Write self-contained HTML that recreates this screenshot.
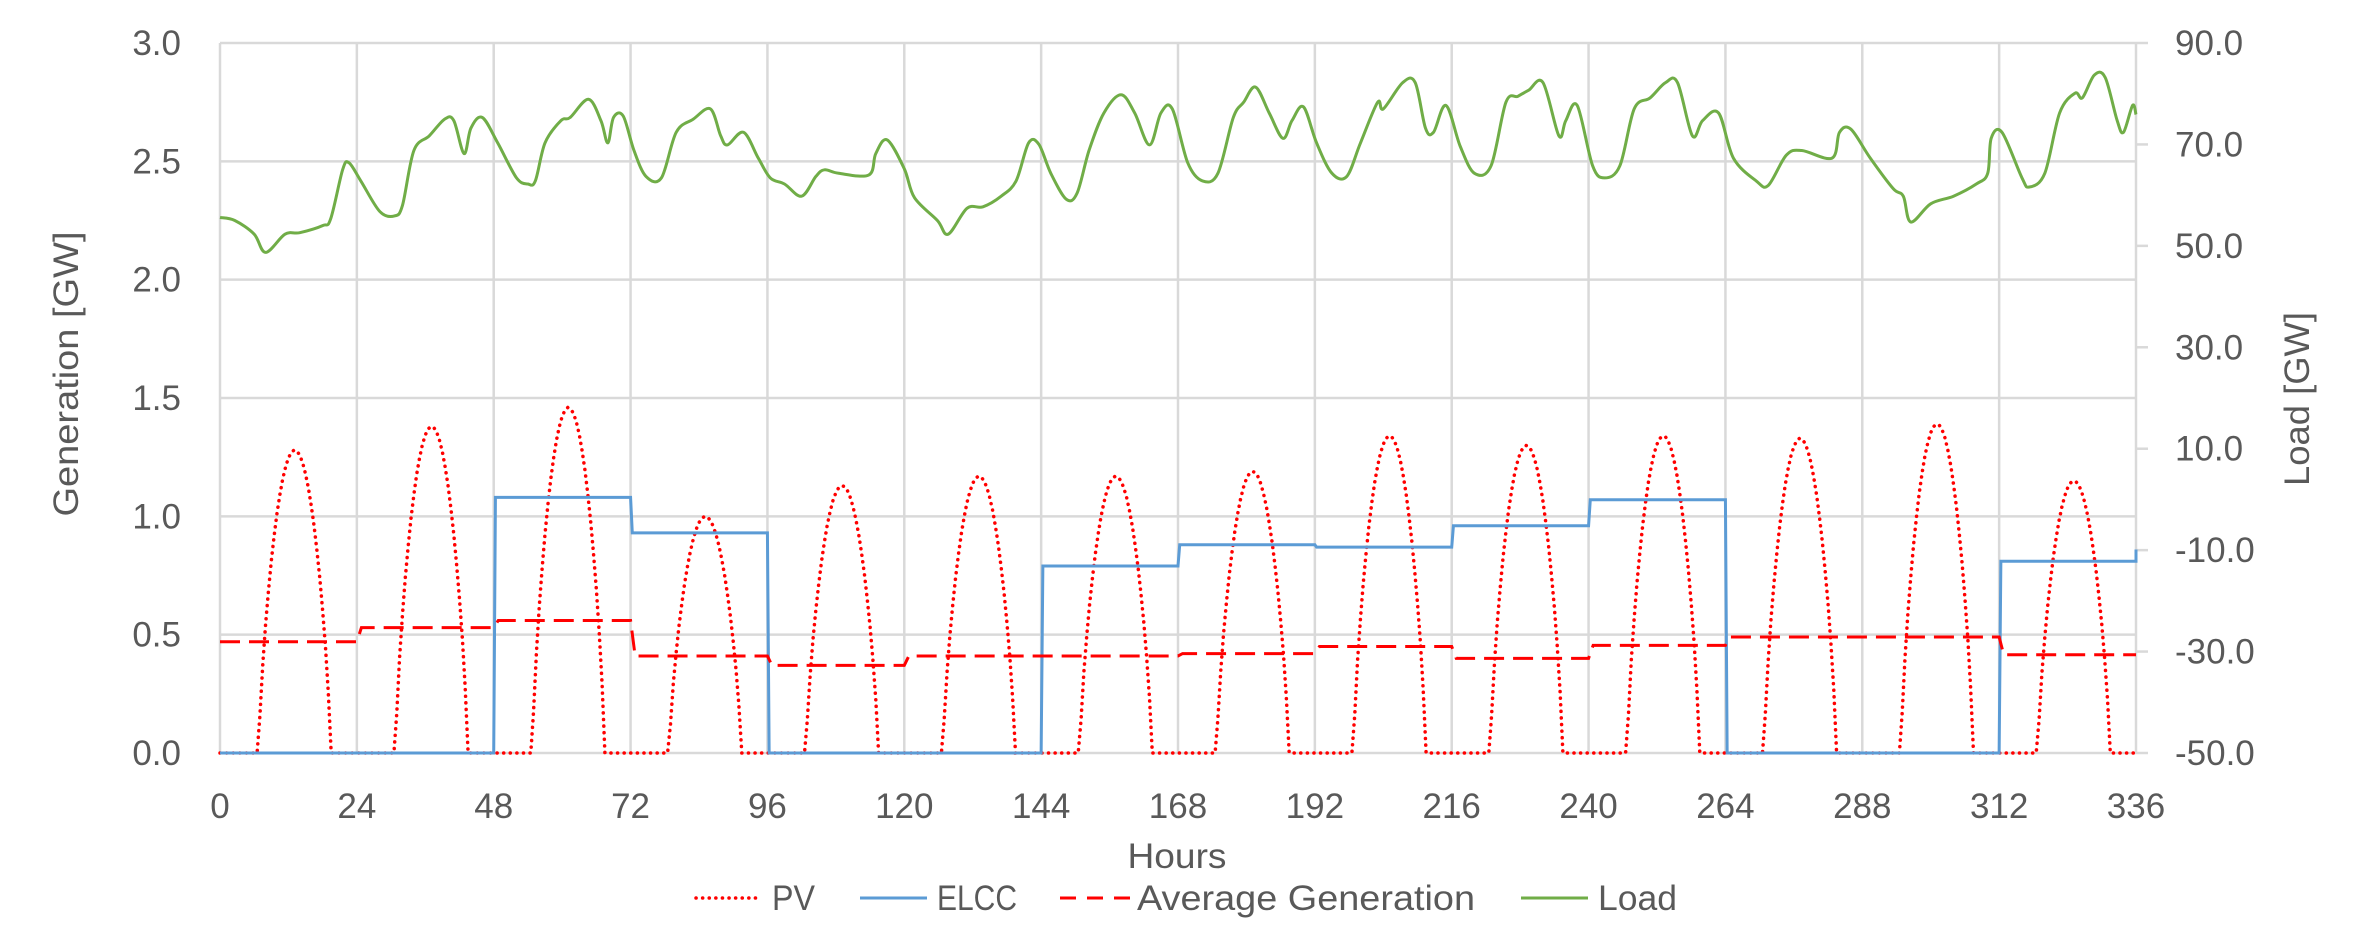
<!DOCTYPE html>
<html><head><meta charset="utf-8"><style>
html,body{margin:0;padding:0;background:#fff;}
svg{display:block;font-family:"Liberation Sans",sans-serif;}
</style></head><body>
<svg id="c" width="2376" height="941" viewBox="0 0 2376 941" xmlns="http://www.w3.org/2000/svg">
<g id="grid" stroke="#d9d9d9" stroke-width="2.5" fill="none"></g>
<g id="lab" fill="#595959" font-size="35"></g>
<text x="0" y="0" fill="#595959" font-size="35" text-anchor="middle" textLength="285" lengthAdjust="spacingAndGlyphs" transform="translate(78,374) rotate(-90)">Generation [GW]</text>
<text x="0" y="0" fill="#595959" font-size="35" text-anchor="middle" textLength="174" lengthAdjust="spacingAndGlyphs" transform="translate(2309,399) rotate(-90)">Load [GW]</text>
<text x="1177" y="868" fill="#595959" font-size="35" text-anchor="middle" textLength="99" lengthAdjust="spacingAndGlyphs">Hours</text>
<g id="series" fill="none"></g>
<g font-size="35" fill="#595959">
<line x1="696" y1="898" x2="760" y2="898" stroke="#ff0000" stroke-width="3.5" stroke-linecap="round" stroke-dasharray="0.1 6.5"/>
<text x="772" y="910" textLength="43" lengthAdjust="spacingAndGlyphs">PV</text>
<line x1="860" y1="898" x2="927" y2="898" stroke="#5b9bd5" stroke-width="3"/>
<text x="937" y="910" textLength="80" lengthAdjust="spacingAndGlyphs">ELCC</text>
<line x1="1060" y1="898" x2="1130" y2="898" stroke="#ff0000" stroke-width="3" stroke-dasharray="16 11"/>
<text x="1137" y="910" textLength="338" lengthAdjust="spacingAndGlyphs">Average Generation</text>
<line x1="1521" y1="898" x2="1588" y2="898" stroke="#70ad47" stroke-width="3"/>
<text x="1598" y="910" textLength="79" lengthAdjust="spacingAndGlyphs">Load</text>
</g>
</svg>
<script>
var NS="http://www.w3.org/2000/svg";
var L=220,R=2136,T=43,B=753;
function X(h){return L+h*(R-L)/336;}
function YG(g){return B-g*(B-T)/3;}
function YL(v){return B-(v+50)*(B-T)/140;}
function el(p,tag,a,txt){var e=document.createElementNS(NS,tag);for(var k in a)e.setAttribute(k,a[k]);if(txt!==undefined)e.textContent=txt;p.appendChild(e);return e;}
var grid=document.getElementById('grid'),lab=document.getElementById('lab'),ser=document.getElementById('series');
for(var i=0;i<=6;i++){var y=YG(i*0.5);el(grid,'line',{x1:L,x2:R,y1:y,y2:y});
 el(lab,'text',{x:181,y:y+12,'text-anchor':'end'},(i*0.5).toFixed(1));}
for(var i=0;i<=7;i++){var v=-50+i*20,y=YL(v);el(grid,'line',{x1:R,x2:R+12,y1:y,y2:y});
 el(lab,'text',{x:2175,y:y+12},v.toFixed(1));}
for(var h=0;h<=336;h+=24){var x=X(h);el(grid,'line',{x1:x,x2:x,y1:T,y2:B});
 el(lab,'text',{x:x,y:818,'text-anchor':'middle'},h);}
// PV
var peaks=[1.28,1.38,1.46,1.0,1.13,1.17,1.17,1.19,1.34,1.30,1.34,1.33,1.39,1.15];
var d="";
for(var t=0;t<=336;t+=0.5){var day=Math.min(13,Math.floor(t/24)),hh=t-day*24;var s=Math.sin(Math.PI*(hh-6.8)/12.6);var g=(hh>6.8&&hh<19.4)?peaks[day]*Math.pow(Math.max(0,s),0.7):0;
 d+=(t==0?"M":"L")+X(t).toFixed(1)+" "+YG(g).toFixed(1);}
el(ser,'path',{d:d,stroke:'#ff0000','stroke-width':3.5,'stroke-linecap':'round','stroke-dasharray':'0.1 6.5'});
// ELCC
var el_=[0,0,1.08,0.93,0,0,0.79,0.88,0.87,0.96,1.07,0,0,0.81];
d="M"+X(0)+" "+YG(0);
for(var k=0;k<14;k++){d+=" L"+X(k*24+0.3)+" "+YG(el_[k])+" L"+X(k*24+24)+" "+YG(el_[k]);}
d+=" L"+X(336)+" "+YG(0.86);
el(ser,'path',{d:d,stroke:'#5b9bd5','stroke-width':3});
// Avg
var av=[0.47,0.53,0.56,0.41,0.37,0.41,0.41,0.42,0.45,0.40,0.455,0.49,0.49,0.415];
d="";
for(var k=0;k<14;k++){d+=(k==0?"M":" L")+X(k*24+(k?0.8:0))+" "+YG(av[k])+" L"+X(k*24+24)+" "+YG(av[k]);}
el(ser,'path',{d:d,stroke:'#ff0000','stroke-width':3,'stroke-dasharray':'20 9'});
// Load
var P=[[0,55.6],[2.6,55],[6,52.3],[8,48.7],[11.4,52.3],[14,52.6],[18,54],[19.4,55.3],[21.5,65],[22.6,66.4],[24.7,62.8],[28,56.8],[30.6,55.9],[32,58],[34,68.8],[36.7,71.7],[39.4,75],[41,74.7],[42.8,68.2],[44,73.2],[46,75.3],[48.7,70.3],[52,63.4],[54,62.2],[55.3,62.8],[57,70.3],[59.8,74.7],[61.4,75.3],[64.6,78.9],[66.8,74.7],[68,70.3],[69,75.3],[70.7,75.6],[72.6,68.8],[74.7,63.7],[77.4,63.4],[80,72.4],[83,75],[86,77],[87.8,71.7],[89,69.9],[91.8,72.4],[94.4,67.3],[96.5,63.4],[99,62.2],[102,59.8],[104.5,63.7],[106,65],[108.5,64.3],[113.8,64],[115,68.2],[117,70.9],[120,65.2],[121.8,59.5],[125.8,55],[127.7,52.3],[131,57.4],[133.8,57.7],[137,59.8],[139.6,62.8],[141.8,70.3],[143.6,70],[145.7,64.3],[148.4,59.2],[150.3,60.4],[152.4,68.8],[155,76.2],[158,79.8],[160.4,76.2],[163,69.9],[165,76.2],[167,77],[169.7,66.4],[172.3,62.8],[175,64.3],[177.7,75.3],[179.5,78.3],[181.6,81.3],[184,76.2],[186.4,71.2],[188,74.7],[190,77.4],[192.3,70.3],[195,64.3],[197.6,63.7],[200,70.3],[203,78.3],[204,77],[207.4,82.2],[209.6,82.2],[211.4,73.2],[212.8,72.4],[215,77.7],[217.5,69.6],[220,64.3],[222.9,65.8],[225.5,78.3],[227.6,79.5],[229.5,80.7],[232,82.2],[234.8,71.7],[236,74.7],[238,77.7],[240.7,65.8],[242.8,63.4],[245.5,65.8],[248,77],[250.8,79.2],[253.5,82.2],[255.6,82.2],[258.2,71.7],[260,74.7],[262.8,76.2],[265.4,67.3],[269.4,62.8],[271.5,61.9],[274.7,67.9],[277.4,68.8],[282.7,67.3],[284,72.4],[286,73],[289.4,67.3],[293.4,61.3],[295.2,59.8],[296.5,54.7],[300,58.3],[304,59.8],[308,62.2],[310,64.3],[310.6,71.2],[312.5,72.4],[316,63.4],[317.3,61.6],[320,64.3],[322.6,76.2],[325.3,80.1],[326.6,79.2],[328.7,83.7],[330.6,83.2],[332.7,74.7],[333.8,72.4],[335.4,77.7],[336,75.9]];
var pts=P.map(function(p){return [X(p[0]),YL(p[1])];});
d="M"+pts[0][0].toFixed(1)+" "+pts[0][1].toFixed(1);
for(var i=0;i<pts.length-1;i++){var p0=pts[Math.max(0,i-1)],p1=pts[i],p2=pts[i+1],p3=pts[Math.min(pts.length-1,i+2)];
 var c1x=p1[0]+(p2[0]-p0[0])/6,c1y=p1[1]+(p2[1]-p0[1])/6,c2x=p2[0]-(p3[0]-p1[0])/6,c2y=p2[1]-(p3[1]-p1[1])/6;
 d+=" C"+c1x.toFixed(1)+" "+c1y.toFixed(1)+" "+c2x.toFixed(1)+" "+c2y.toFixed(1)+" "+p2[0].toFixed(1)+" "+p2[1].toFixed(1);}
el(ser,'path',{d:d,stroke:'#70ad47','stroke-width':3});
</script>
</body></html>
